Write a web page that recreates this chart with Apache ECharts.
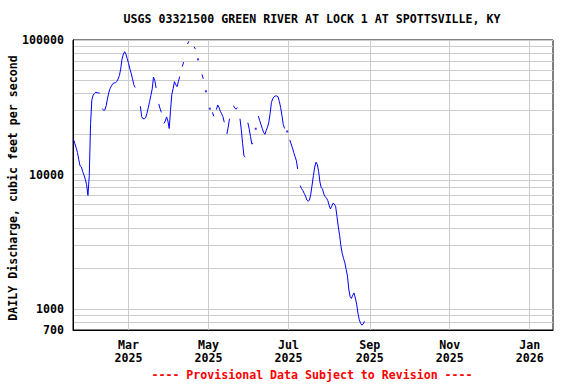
<!DOCTYPE html>
<html>
<head>
<meta charset="utf-8">
<title>USGS 03321500 Green River</title>
<script src="https://cdn.jsdelivr.net/npm/echarts@6/dist/echarts.min.js"></script>
<style>
html, body { margin: 0; padding: 0; background: #fff; }
#chart { width: 576px; height: 384px; }
</style>
</head>
<body>
<div id="chart"></div>
<script>
// daily discharge, cfs (null = no value plotted)
var flowJan = [18200, 17000, 15800, 14600, 12900, 11600, 11400, 10500, 9900, 9200, 8400, 7000, 9800, 24000]; // from Jan 18
var flowFeb = [36000, 39000, 40000, 41000, 40600, 40400, 40400, null, 30900, 30000, 30300, 32800, 37000, 41000,
	43800, 45700, 47400, 48000, 48000, 49200, 51300, 54500, 61000, 72000, 78500, 81800, 78500, 72500];
var flowMar = [67000, 61000, 56500, 51500, 46500, 44400, null, null, null, 32200, 27000, 26000, 26000, 26400,
	28500, 31300, 34800, 38600, 43100, 53000, 50000, 44000, null, 33500, 31000, 29000, null, 24000, 25000, 26800, 25000];
var flowApr = [22000, 30000, 39500, 43500, 49000, 46500, 45000, 49000, 53500, null, 63500, 68500, null, null,
	93400, 97800, null, null, null, 89000, 85500, null, 71800, null, null, 55500, 51500, null, 41600, null];
var flowMay = [null, 30900, null, 29000, 27100, null, 30400, 32900, 31600, 29500, 28300, 26900, 24500, null,
	20000, 22500, 26000, null, null, 32500, 31300, 30600, 31500, null, 26000, 21500, 17000, 13800, 13500, null, 24300];
var flowJun = [21900, 19200, 16900, 17000, null, 21900, null, 27200, 25300, 23600, 22000, 20600, 19900, 21300,
	22500, 24500, 28500, 34400, 36600, 37900, 38400, 38400, 37900, 35000, 31600, 27500, 23600, 22000, null, 20900];
var flowJul = [null, 18100, 16900, 15800, 14600, 13600, 12700, 11000, null, 8280, 7860, 7600, 7250, 6910, 6470,
	6340, 6450, 7150, 8350, 9840, 11380, 12360, 11880, 10520, 8790, 8000, 7790, 7150, 6850, 6680, 6400];
var flowAug = [5920, 5550, 5820, 6130, 6030, 5770, 4860, 4090, 3540, 2950, 2600, 2380, 2210, 1970, 1760, 1410,
	1240, 1200, 1270, 1320, 1210, 1090, 930, 835, 785, 760, 776, 813]; // to Aug 28

var monthNames = ['Jan', 'Feb', 'Mar', 'Apr', 'May', 'Jun', 'Jul', 'Aug', 'Sep', 'Oct', 'Nov', 'Dec'];
// x axis runs in days since 1 Jan 2025
function dayOf(y, m, d) {
	return (Date.UTC(y, m, d) - Date.UTC(2025, 0, 1)) / 86400000;
}
var xTicks = [dayOf(2025, 2, 1), dayOf(2025, 4, 1), dayOf(2025, 6, 1),
	dayOf(2025, 8, 1), dayOf(2025, 10, 1), dayOf(2026, 0, 1)];
var yGrid = [700, 800, 900, 1000, 2000, 3000, 4000, 5000, 6000, 7000, 8000, 9000,
	10000, 20000, 30000, 40000, 50000, 60000, 70000, 80000, 90000, 100000];
var yLabels = [700, 1000, 10000, 100000];

var months = [[0, 18, flowJan], [1, 1, flowFeb], [2, 1, flowMar], [3, 1, flowApr],
	[4, 1, flowMay], [5, 1, flowJun], [6, 1, flowJul], [7, 1, flowAug]];
var flowData = [];
months.forEach(function (m) {
	m[2].forEach(function (v, i) {
		flowData.push([dayOf(2025, m[0], m[1] + i), v == null ? '-' : v]);
	});
});
// single days with no neighbours would not show as a line
var lonely = flowData.filter(function (p, i) {
	var prev = flowData[i - 1], next = flowData[i + 1];
	return p[1] !== '-' && (!prev || prev[1] === '-') && (!next || next[1] === '-');
});

var monoFont = '"DejaVu Sans Mono", "Liberation Mono", monospace';

var chart = echarts.init(document.getElementById('chart'), null, { renderer: 'svg' });
chart.setOption({
	animation: false,
	backgroundColor: '#fff',
	grid: { left: 73, top: 40, width: 480, height: 290, show: true, borderColor: '#000', borderWidth: 1 },
	graphic: [
		{ type: 'text', x: 312, y: 19, style: { text: 'USGS 03321500 GREEN RIVER AT LOCK 1 AT SPOTTSVILLE, KY',
			textAlign: 'center', textVerticalAlign: 'middle', font: 'bold 11.6px ' + monoFont, fill: '#000' } },
		{ type: 'text', x: 12.5, y: 188, rotation: Math.PI / 2, style: { text: 'DAILY Discharge, cubic feet per second',
			textAlign: 'center', textVerticalAlign: 'middle', font: 'bold 11.6px ' + monoFont, fill: '#000' } },
		{ type: 'text', x: 312, y: 375, style: { text: '---- Provisional Data Subject to Revision ----',
			textAlign: 'center', textVerticalAlign: 'middle', font: 'bold 11.6px ' + monoFont, fill: '#ff0000' } }
	],
	xAxis: {
		type: 'value',
		min: 16.6,
		max: 382.8,
		axisLine: { show: true, lineStyle: { color: '#000', width: 1 } },
		axisTick: { show: false, customValues: xTicks },
		axisLabel: {
			customValues: xTicks,
			margin: 8,
			lineHeight: 13,
			fontFamily: monoFont, fontWeight: 'bold', fontSize: 11.6, color: '#000',
			formatter: function (v) {
				var d = new Date(Date.UTC(2025, 0, 1) + Math.round(v) * 86400000);
				return monthNames[d.getUTCMonth()] + '\n' + d.getUTCFullYear();
			}
		},
		splitLine: { show: true, lineStyle: { color: '#cccccc', width: 1 } }
	},
	yAxis: {
		type: 'log',
		logBase: 10,
		min: 700,
		max: 100000,
		axisLine: { show: true, lineStyle: { color: '#000', width: 1 } },
		axisTick: { show: false, customValues: yGrid },
		axisLabel: {
			customValues: yLabels,
			margin: 9,
			fontFamily: monoFont, fontWeight: 'bold', fontSize: 11.6, color: '#000',
			formatter: function (v) { return String(Math.round(v)); }
		},
		splitLine: { show: true, lineStyle: { color: '#cccccc', width: 1 } }
	},
	series: [
		{
			type: 'line',
			data: flowData,
			showSymbol: false,
			connectNulls: false,
			lineStyle: { color: '#0000ff', width: 1 },
			itemStyle: { color: '#0000ff' }
		},
		{
			type: 'scatter',
			data: lonely,
			symbol: 'rect',
			symbolSize: [2, 2],
			itemStyle: { color: '#0000ff' }
		}
	]
});
</script>
</body>
</html>
